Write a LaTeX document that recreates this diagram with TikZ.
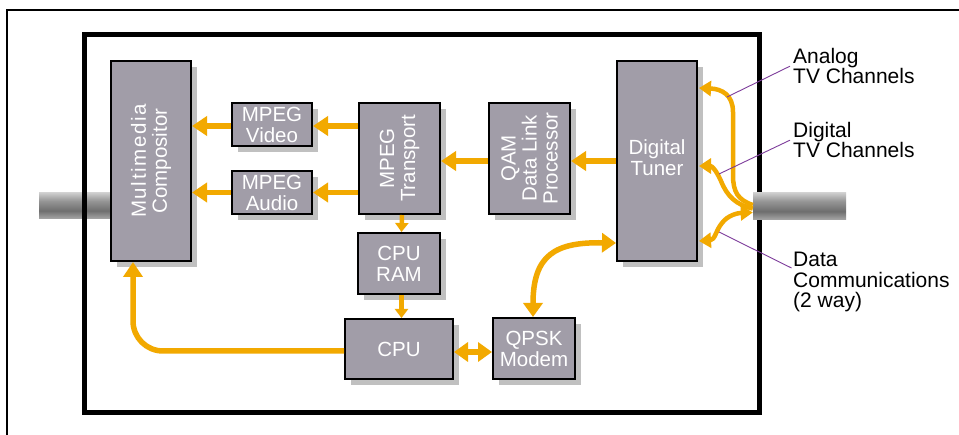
\documentclass[tikz,border=0pt]{standalone}
\usepackage{fontspec}
\setmainfont{Liberation Sans}
\usetikzlibrary{arrows.meta,shadows,calc}
\definecolor{boxgray}{RGB}{161,157,168}
\definecolor{shadowgray}{RGB}{192,192,192}
\definecolor{arrorange}{RGB}{242,169,0}
\definecolor{leadpurple}{RGB}{125,60,155}
\definecolor{cabT}{RGB}{204,204,204}
\definecolor{cabM}{RGB}{150,150,150}
\definecolor{cabD}{RGB}{110,110,110}
\definecolor{cabB}{RGB}{168,168,168}
\pgfdeclareverticalshading{cableshade}{100bp}{color(0bp)=(cabB); color(25bp)=(cabB); color(41bp)=(cabD); color(60bp)=(cabM); color(75bp)=(cabT); color(100bp)=(cabT)}
\newcommand\bxfont{\fontsize{20.5pt}{21pt}\selectfont}
\newcommand\lblfont{\fontsize{21pt}{20.5pt}\selectfont}
\begin{document}
\begin{tikzpicture}[x=1pt,y=-1pt,
  box/.style={draw=black, line width=2pt, fill=boxgray, inner sep=0pt, text=white, align=center, font=\bxfont,
    general shadow={fill=shadowgray, shadow xshift=6pt, shadow yshift=-6pt}},
  rottext/.style={rotate=90, text=white, align=center, font=\bxfont, inner sep=0pt},
  cable/.style={shade, shading=cableshade, inner sep=0pt, draw=none},
  arr/.style={draw=arrorange, line width=5.5pt, -{Triangle[length=15pt,width=19pt]}},
  sarr/.style={draw=arrorange, line width=4.5pt, -{Triangle[length=9pt,width=13pt]}},
  darr/.style={draw=arrorange, line width=5.5pt, {Triangle[length=14pt,width=19pt]}-{Triangle[length=14pt,width=19pt]}},
  carr/.style={draw=arrorange, line width=4.5pt, -{Triangle[length=12pt,width=15pt]}},
  cdarr/.style={draw=arrorange, line width=4.5pt, {Triangle[length=12pt,width=15pt]}-{Triangle[length=12pt,width=15pt]}},
  lbl/.style={font=\lblfont, align=left, inner sep=0pt, anchor=north west, text=black},
  leader/.style={draw=leadpurple, line width=0.9pt}
]
\clip (0,0) rectangle (959,435);
\fill[white] (0,0) rectangle (959,435);
% outer frame
\draw[line width=2pt] (7,10.3) rectangle (975,450);
% left cable
\node[cable, minimum width=72pt, minimum height=26pt] (cableL) at (75,206) {};
% inner frame
\draw[line width=5pt] (84.5,34.5) rectangle (759.5,412.5);
% right cable
\node[cable, minimum width=93pt, minimum height=27pt] (cableR) at (799.5,206.5) {};

% boxes
\node[box, minimum width=80pt, minimum height=200pt] (comp) at (151,161) {};
\node[rottext] (compT) at (comp.center) {\addfontfeatures{LetterSpace=8}Multimedia\\Compositor};
\node[box, minimum width=80pt, minimum height=43pt] (video) at (272,124.5) {MPEG\\Video};
\node[box, minimum width=80pt, minimum height=43pt] (audio) at (272,192.5) {MPEG\\Audio};
\node[box, minimum width=81pt, minimum height=111pt] (trans) at (399.5,158.5) {};
\node[rottext] (transT) at (trans.center) {MPEG\\Transport};
\node[box, minimum width=81pt, minimum height=111pt] (qam) at (529.5,158.5) {};
\node[rottext] (qamT) at (qam.center) {QAM\\Data Link\\Processor};
\node[box, minimum width=80pt, minimum height=200pt] (tuner) at (657,161) {};
\node[text=white, align=center, font=\bxfont, inner sep=0pt] (tunerT) at (657,158) {Digital\\Tuner};
\node[box, minimum width=82pt, minimum height=61pt] (ram) at (399,263.5) {CPU\\RAM};
\node[box, minimum width=108pt, minimum height=60pt] (cpu) at (399,349) {CPU};
\node[box, minimum width=82pt, minimum height=61pt] (qpsk) at (534,348.5) {QPSK\\Modem};

% arrows
\draw[arr] ([yshift=-1.5pt]video.west) -- ([yshift=-1.5pt]video.west -| comp.east);
\draw[arr] ([yshift=-1.5pt]video.east -| trans.west) -- ([yshift=-1.5pt]video.east);
\draw[arr] (audio.west) -- (audio.west -| comp.east);
\draw[arr] (audio.east -| trans.west) -- (audio.east);
\draw[arr] (tuner.west -| qam.west) -- (tuner.west -| trans.east);
\draw[arr] (tuner.west) -- (tuner.west -| qam.east);
\draw[sarr] ([xshift=2.5pt]trans.south) -- ([xshift=2.5pt]ram.north);
\draw[sarr] ([xshift=2.5pt]ram.south) -- ([xshift=2.5pt]cpu.north);
\draw[arr, rounded corners=30pt] ([yshift=-2pt]cpu.west) -| ([xshift=-18pt]comp.south);
\draw[darr] ([yshift=-3pt]cpu.east) -- ([yshift=-3pt]cpu.east -| qpsk.west);
\draw[darr] ([xshift=-1pt]qpsk.north) .. controls (533,255) and (555,242) .. ($(tuner.south west)+(0,-19)$);

% right side curves
\coordinate (aEnd) at ($(tuner.north east)+(1,28)$);
\draw[carr] ([yshift=1.5pt]cableR.west) .. controls (738,200) and (733,192) .. (733,175) -- (733,112) .. controls (733,95) and (722,89) .. (aEnd);
\coordinate (dEnd) at ($(tuner.east)+(1,5)$);
\draw[carr] ([yshift=-2pt]cableR.west) .. controls (736,205) and (727,196) .. (721,181) .. controls (716,170) and (712,166) .. (dEnd);
\coordinate (cEnd) at ($(tuner.south east)+(1,-21)$);
\draw[cdarr] (cEnd) .. controls (715,240) and (716,230) .. (722,223) .. controls (728,215) and (738,213) .. ([yshift=-6pt]cableR.west);

% labels
\node[lbl] (analog) at (793,48) {Analog\\TV Channels};
\node[lbl] (digital) at (793,122) {Digital\\TV Channels};
\node[lbl] (data) at (793,252) {Data\\Communications\\(2 way)};
\coordinate (aTouch) at (727,97);
\coordinate (dTouch) at (719,174);
\coordinate (cTouch) at (719,232);
\draw[leader] ([xshift=-3pt]analog.west) -- (aTouch);
\draw[leader] ([xshift=-3pt]digital.west) -- (dTouch);
\draw[leader] ([xshift=-1.5pt,yshift=-16pt]data.north west) -- (cTouch);
\end{tikzpicture}
\end{document}
